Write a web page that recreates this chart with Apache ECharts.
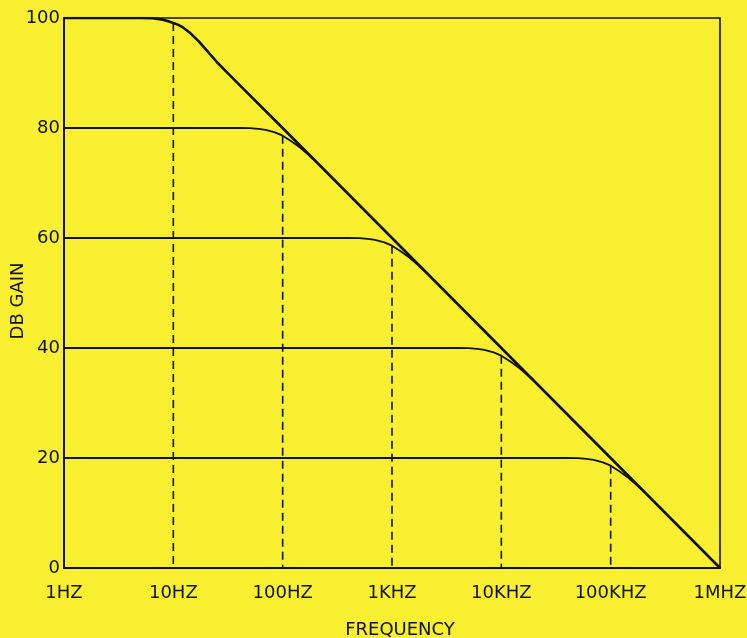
<!DOCTYPE html>
<html>
<head>
<meta charset="utf-8">
<script src="https://cdn.jsdelivr.net/npm/echarts@6/dist/echarts.min.js"></script>
<style>
html,body{margin:0;padding:0;background:#f7ef30;}
#chart{width:747px;height:638px;}
</style>
</head>
<body>
<div id="chart"></div>
<script>
// Tick labels
const xTickLabels = ['1HZ', '10HZ', '100HZ', '1KHZ', '10KHZ', '100KHZ', '1MHZ'];
const yTickValues = [0, 20, 40, 60, 80, 100];

// Open-loop gain curve: [frequency Hz, dB]
const openLoopGain = [
  [1, 100], [5, 100], [6.5, 99.95], [8, 99.7], [9, 99.4], [10, 99.1], [11, 98.8], [12, 98.4],
  [14, 97.4], [17, 95.8], [20, 94.2], [25, 92.0], [30, 90.4], [40, 87.9], [100, 80],
  [1000, 60], [10000, 40], [100000, 20], [1000000, 0]
];
// Closed-loop gain curves
const closedLoop80 = [
  [1, 80], [40, 80], [50, 79.97], [60, 79.85], [70, 79.65], [85, 79.2], [100, 78.6],
  [120, 77.6], [145, 76.4], [170, 75.2], [200, 73.95]
];
const closedLoop60 = [
  [1, 60], [400, 60], [500, 59.97], [600, 59.85], [700, 59.65], [850, 59.2], [1000, 58.6],
  [1200, 57.6], [1450, 56.4], [1700, 55.2], [2000, 53.95]
];
const closedLoop40 = [
  [1, 40], [4000, 40], [5000, 39.97], [6000, 39.85], [7000, 39.65], [8500, 39.2], [10000, 38.6],
  [12000, 37.6], [14500, 36.4], [17000, 35.2], [20000, 33.95]
];
const closedLoop20 = [
  [1, 20], [40000, 20], [50000, 19.97], [60000, 19.85], [70000, 19.65], [85000, 19.2], [100000, 18.6],
  [120000, 17.6], [145000, 16.4], [170000, 15.2], [200000, 13.95]
];
// Corner markers: frequency and gain where dashed drop lines start
const cornerFreqs = [10, 100, 1000, 10000, 100000];
const cornerGains = [99.1, 78.6, 58.6, 38.6, 18.6];

const ink = '#111111';
const font = 'DejaVu Sans';

const series = [];
series.push({
  type: 'line', data: openLoopGain, showSymbol: false,
  lineStyle: { color: ink, width: 2.6, join: 'round' }, z: 5
});
[closedLoop80, closedLoop60, closedLoop40, closedLoop20].forEach(d => {
  series.push({
    type: 'line', data: d, showSymbol: false,
    lineStyle: { color: ink, width: 1.8, join: 'round' }, z: 4
  });
});
cornerFreqs.forEach((f, i) => {
  series.push({
    type: 'line', data: [[f, cornerGains[i]], [f, 0]], showSymbol: false,
    lineStyle: { color: ink, width: 1.6, type: [8, 5] }, z: 3
  });
});

const chart = echarts.init(document.getElementById('chart'), null, { renderer: 'canvas' });
chart.setOption({
  backgroundColor: '#f7ef30',
  animation: false,
  grid: {
    left: 64, right: 27, top: 18, bottom: 70,
    outerBoundsMode: 'none', containLabel: false,
    show: true, borderColor: ink, borderWidth: 1.6, backgroundColor: 'transparent'
  },
  xAxis: {
    type: 'log', logBase: 10, min: 1, max: 1000000,
    name: 'FREQUENCY', nameLocation: 'middle', nameGap: 53, nameMoveOverlap: false,
    nameTextStyle: { fontFamily: font, fontSize: 18, color: ink, padding: [0, 0, 0, 16] },
    axisLine: { show: true, lineStyle: { color: ink, width: 2 } },
    axisTick: { show: false },
    splitLine: { show: false },
    minorTick: { show: false },
    axisLabel: {
      margin: 16, fontFamily: font, fontSize: 18, color: ink,
      formatter: v => xTickLabels[Math.round(Math.log10(v))]
    }
  },
  yAxis: {
    type: 'value', min: 0, max: 100, interval: 20,
    name: 'DB GAIN', nameLocation: 'middle', nameGap: 37, nameRotate: 90, nameMoveOverlap: false,
    nameTextStyle: { fontFamily: font, fontSize: 18, color: ink, padding: [0, 16, 0, 0] },
    axisLine: { show: true, lineStyle: { color: ink, width: 2 } },
    axisTick: { show: false },
    splitLine: { show: false },
    axisLabel: {
      margin: 4, fontFamily: font, fontSize: 18, color: ink,
      formatter: v => yTickValues.includes(v) ? String(v) : ''
    }
  },
  series: series
});
</script>
</body>
</html>
